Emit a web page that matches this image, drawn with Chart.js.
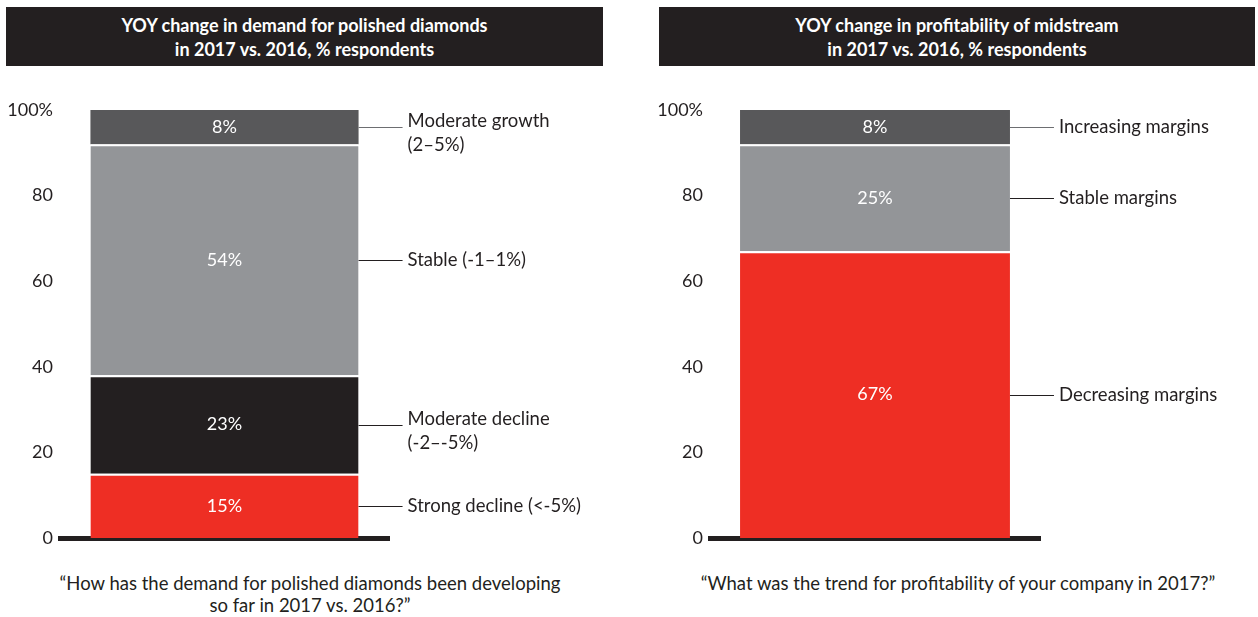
<!DOCTYPE html>
<html>
<head>
<meta charset="utf-8">
<script src="https://cdn.jsdelivr.net/npm/chart.js@4/dist/chart.umd.min.js"></script>
<style>
  body { margin: 0; background: #fff; }
  #page { position: relative; width: 1258px; height: 617px; overflow: hidden; font-family: Lato, sans-serif; }
  .title { position: absolute; top: 7px; height: 59px; background: #231f20; color: #fff;
           font-weight: bold; font-size: 18px; line-height: 24px; text-align: center;
           display: flex; align-items: center; justify-content: center; }
  .caption { position: absolute; top: 572px; font-size: 18.5px; line-height: 22px; color: #231f20; text-align: center; }
  canvas { position: absolute; top: 90px; }
</style>
</head>
<body>
<div id="page">
  <div class="title" style="left:6px;width:597px;">YOY change in demand for polished diamonds<br>in 2017 vs. 2016, % respondents</div>
  <div class="title" style="left:659px;width:596px;">YOY change in profitability of midstream<br>in 2017 vs. 2016, % respondents</div>
  <canvas id="demandChart" width="629" height="470" style="left:0px;"></canvas>
  <canvas id="profitChart" width="608" height="470" style="left:650px;"></canvas>
  <div class="caption" style="left:30px;width:560px;">“How has the demand for polished diamonds been developing<br>so far in 2017 vs. 2016?”</div>
  <div class="caption" style="left:660px;width:596px;">“What was the trend for profitability of your company in 2017?”</div>
</div>
<script>
// data, bottom segment first
const demandLabels = ['Strong decline (<-5%)', ['Moderate decline', '(-2–-5%)'], 'Stable (-1–1%)', ['Moderate growth', '(2–5%)']];
const demandValues = [15, 23, 54, 8];
const profitLabels = ['Decreasing margins', 'Stable margins', 'Increasing margins'];
const profitValues = [67, 25, 8];
const yTicks = [0, 20, 40, 60, 80, 100];

const demandColors = ['#ee2e24', '#231f20', '#939598', '#58585a'];
const profitColors = ['#ee2e24', '#939598', '#58585a'];

Chart.defaults.font.family = 'Lato, sans-serif';
Chart.defaults.color = '#231f20';

// value inside the bar + connector line and label on the right
const segmentLabels = {
    id: 'segmentLabels',
    afterDatasetsDraw(chart) {
        const ctx = chart.ctx;
        ctx.save();
        chart.data.datasets.forEach((ds, i) => {
            const bar = chart.getDatasetMeta(i).data[0];
            const mid = (bar.y + bar.base) / 2;
            const right = bar.x + bar.width / 2;
            ctx.font = '18px Lato, sans-serif';
            ctx.fillStyle = '#fff';
            ctx.textAlign = 'center';
            ctx.textBaseline = 'middle';
            ctx.fillText(ds.data[0] + '%', bar.x, mid);

            ctx.strokeStyle = ds.lineColor || '#231f20';
            ctx.lineWidth = 1;
            ctx.beginPath();
            ctx.moveTo(right, Math.round(mid) + 0.5);
            ctx.lineTo(right + 44, Math.round(mid) + 0.5);
            ctx.stroke();

            ctx.font = '18.5px Lato, sans-serif';
            ctx.fillStyle = '#231f20';
            ctx.textAlign = 'left';
            const lines = Array.isArray(ds.label) ? ds.label : [ds.label];
            const start = lines.length > 1 ? mid - 6 : mid;
            lines.forEach((t, k) => ctx.fillText(t, right + 49, start + k * 24));
        });
        ctx.restore();
    }
};

function makeChart(id, labels, values, colors, barPct, padRight) {
    const datasets = values.map((v, i) => ({
        label: labels[i],
        data: [v],
        backgroundColor: colors[i],
        borderColor: '#fff',
        borderWidth: { top: i === values.length - 1 ? 0 : 2, bottom: 0, left: 0, right: 0 },
        borderSkipped: false,
        lineColor: i === values.length - 1 ? '#6d6e71' : '#231f20',
        barPercentage: barPct,
        categoryPercentage: 1
    }));
    return new Chart(document.getElementById(id), {
        type: 'bar',
        data: { labels: [''], datasets: datasets },
        options: {
            responsive: false,
            animation: false,
            layout: { padding: { top: 20, bottom: 22, left: 0, right: padRight } },
            plugins: { legend: { display: false }, tooltip: { enabled: false } },
            scales: {
                x: {
                    stacked: true,
                    grid: { display: false },
                    ticks: { display: false },
                    border: { display: true, color: '#231f20', width: 5 },
                    afterFit(scale) { scale.height = 0; }
                },
                y: {
                    stacked: true,
                    min: 0,
                    max: 100,
                    grid: { display: false, drawTicks: false },
                    border: { display: false },
                    afterBuildTicks(scale) { scale.ticks = yTicks.map(v => ({ value: v })); },
                    afterFit(scale) { scale.width = 60; },
                    ticks: {
                        padding: 7,
                        font: { size: 18 },
                        color: '#231f20',
                        callback: v => v === 100 ? '100%' : v
                    }
                }
            }
        },
        plugins: [segmentLabels]
    });
}

makeChart('demandChart', demandLabels, demandValues, demandColors, 0.815, 240);
makeChart('profitChart', profitLabels, profitValues, profitColors, 0.818, 218);
</script>
</body>
</html>
